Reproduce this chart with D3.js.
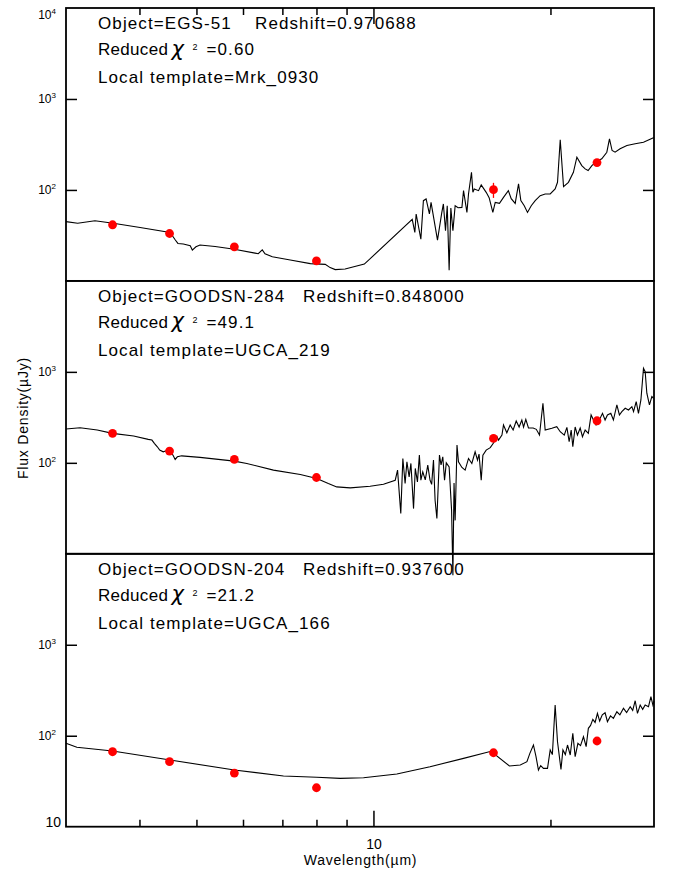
<!DOCTYPE html>
<html>
<head>
<meta charset="utf-8">
<script src="https://cdn.jsdelivr.net/npm/d3@7"></script>
<style>
  body { margin: 0; background: #fff; }
  text { font-family: "Liberation Sans", Arial, sans-serif; fill: #000; }
</style>
</head>
<body>
<div id="sed"></div>
<script>

// ---- data ----
var objectNames = ["EGS-51", "GOODSN-284", "GOODSN-204"];
var redshifts   = ["0.970688", "0.848000", "0.937600"];
var chiSquared  = ["0.60", "49.1", "21.2"];
var templates   = ["Mrk_0930", "UGCA_219", "UGCA_166"];

// observed bands (micron): IRAC 3.6/4.5/5.8/8.0, IRS 16, MIPS 24
var bandWave = [3.6, 4.5, 5.8, 8.0, 16, 24];
var obsFlux1 = [41.4, 33.2, 23.7, 16.6, 100.7, 200];
var obsFlux2 = [211, 134.6, 109, 69, 185.7, 290];
var obsFlux3 = [66.7, 51.8, 38.9, 26.8, 65, 87.5];
var obsErr1  = [0, 0, 0, 0, 19, 0];
var obsErr2  = [0, 0, 0, 0, 0, 0];
var obsErr3  = [0, 0, 0, 0, 0, 0];

// redshifted local templates (micron, microJy)
var tplWave1 = [3.00, 3.14, 3.36, 3.61, 4.01, 4.51, 4.60, 4.65, 4.75, 4.88, 4.92, 4.99, 5.07, 5.38, 5.80, 6.29, 6.37, 6.47, 6.54, 6.73,
  7.22, 7.81, 8.28, 8.44, 8.61, 8.95, 9.65, 11.64, 11.76, 11.82, 12.04, 12.16, 12.29, 12.45, 12.53, 12.85, 13.07, 13.15, 13.26, 13.35,
  13.45, 13.54, 13.65, 13.77, 13.93, 14.14, 14.23, 14.42, 14.51, 14.68, 14.76, 14.84, 15.09, 15.25, 15.55, 15.73, 15.96, 16.11, 16.38, 16.64,
  16.96, 17.15, 17.42, 17.65, 17.81, 18.05, 18.28, 18.55, 18.84, 19.21, 19.59, 19.98, 20.37, 20.56, 20.78, 21.05, 21.46, 21.88, 22.18, 22.61,
  22.91, 23.18, 23.52, 23.98, 24.45, 24.94, 25.20, 25.46, 25.76, 26.27, 26.98, 27.87, 28.79, 30.00];
var tplFlux1 = [44.8, 43.0, 45.9, 43.0, 38.7, 34.1, 28.3, 25.8, 25.4, 24.3, 21.8, 23.7, 24.8, 23.9, 22.3, 20.2, 19.9, 21.9, 19.9, 18.4,
  17.0, 15.5, 15.2, 14.0, 13.3, 13.5, 15.3, 47.4, 34.1, 54.4, 28.8, 76.2, 79.6, 54.4, 73.0, 28.1, 56.6, 70.1, 35.6, 67.1,
  13.1, 63.3, 35.6, 67.1, 63.8, 64.3, 98.2, 56.6, 90.3, 156.3, 94.1, 102.6, 98.2, 113.5, 94.1, 82.2, 56.6, 73.0, 71.1, 82.9,
  98.2, 80.2, 71.1, 116.5, 76.2, 67.1, 56.6, 67.1, 76.2, 86.5, 90.3, 90.3, 102.6, 121.3, 355.9, 108.7, 121.3, 156.3, 228.8, 185.3,
  170.4, 163.2, 185.3, 205.1, 219.7, 259.8, 365, 271.3, 259.8, 283.1, 307.8, 321.5, 334.8, 377.3];

var tplWave2 = [3.00, 3.17, 3.39, 3.60, 3.91, 4.14, 4.20, 4.24, 4.29, 4.33, 4.39, 4.44, 4.51, 4.56, 4.60, 4.64, 4.72, 5.07, 5.80, 6.09,
  6.76, 7.51, 8.01, 8.38, 8.66, 9.13, 9.87, 10.40, 10.89, 10.99, 11.13, 11.22, 11.32, 11.40, 11.50, 11.58, 11.70, 11.78, 11.88, 11.97,
  12.04, 12.13, 12.25, 12.37, 12.48, 12.56, 12.65, 12.73, 12.82, 12.95, 13.03, 13.12, 13.21, 13.30, 13.45, 13.58, 13.65, 13.71, 13.77, 13.87,
  13.95, 14.14, 14.32, 14.51, 14.70, 14.89, 15.03, 15.12, 15.25, 15.35, 15.55, 15.80, 16.00, 16.22, 16.32, 16.54, 16.64, 16.86, 17.08, 17.28,
  17.49, 17.69, 17.88, 18.00, 18.16, 18.35, 18.69, 18.92, 19.16, 19.42, 19.59, 20.11, 20.50, 20.78, 21.11, 21.33, 21.52, 21.69, 21.83, 22.03,
  22.23, 22.47, 22.67, 22.91, 23.20, 23.45, 23.67, 23.91, 24.14, 24.52, 24.77, 25.00, 25.33, 25.59, 25.94, 26.20, 26.45, 26.80, 27.15, 27.51,
  27.69, 27.98, 28.23, 28.50, 28.79, 28.98, 29.17, 29.47, 29.75, 29.94];
var tplFlux2 = [235.3, 243.2, 229.4, 211.0, 197.0, 181.1, 178.0, 163.7, 150.1, 138.0, 132.2, 135.6, 132.2, 121.6, 109.0, 116.5, 119.4, 114.7, 104.4, 98.5,
  83.1, 74.5, 67.3, 59.3, 54.4, 53.0, 55.3, 58.2, 64.4, 83.1, 27.7, 111.8, 59.3, 102.6, 70, 98.5, 31.4, 86.8, 61.7, 121.6,
  64.4, 79.6, 65, 94.3, 64.4, 58, 107.1, 38.8, 24.4, 121.6, 95, 116.5, 64.4, 100, 90.3, 30, 5.8, 60, 23.3, 156.7,
  102.6, 89.0, 83.1, 111.8, 98.5, 132.2, 107.1, 125, 64.4, 121.6, 138.0, 147, 165, 193.5, 178, 202, 260.4, 214.2, 260.4, 229.4,
  288.3, 247.6, 295.7, 247.6, 300.9, 241.3, 241.3, 233.5, 202, 451.8, 229.4, 239.5, 249.5, 219.7, 202, 245.7, 170.4, 229.4, 150.1, 247.6,
  202, 241.3, 193.5, 229.4, 211, 335.7, 295.7, 260.4, 283.2, 350.5, 295.7, 335.7, 350.5, 295.7, 432.7, 335.7, 365, 397.9, 381, 414.4,
  365, 470.6, 350.5, 491.3, 1098, 1008, 582.3, 432.7, 534.2, 512.9];

var tplWave3 = [3.00, 3.13, 3.60, 4.51, 5.80, 7.03, 8.01, 8.78, 9.62, 10.96, 12.48, 14.23, 15.85, 17.03, 17.77, 18.24, 18.45, 18.71, 18.90, 19.08,
  19.25, 19.46, 19.77, 19.98, 20.15, 20.37, 20.56, 20.84, 21.00, 21.20, 21.38, 21.61, 21.83, 22.03, 22.27, 22.50, 22.76, 23.00, 23.20, 23.40,
  23.61, 23.82, 24.04, 24.25, 24.50, 24.77, 25.00, 25.30, 25.59, 25.94, 26.25, 26.62, 26.95, 27.33, 27.60, 27.87, 28.12, 28.42, 28.70, 28.98,
  29.36, 29.64, 29.87, 30.00];
var tplFlux3 = [82.5, 74.6, 67.9, 54.1, 42.0, 36.1, 34.9, 34.0, 34.5, 37.9, 45.6, 56.4, 67.5, 46.5, 47.6, 51.8, 64, 79.1, 59, 42.0,
  47, 43.8, 43.8, 69.7, 62, 217.5, 85.9, 42.7, 69.7, 62, 79.1, 61.4, 106.3, 58.8, 82.5, 78, 97.5, 75.7, 120.6, 130,
  151.4, 140, 176.3, 145, 170, 178.9, 142.5, 165, 155.3, 183.5, 170, 200.0, 180, 208.3, 190, 242.5, 176.3, 217.5, 195, 217.5,
  208.3, 268.3, 217.5, 240];

// y tick labels shown per panel
var yLabels1 = [1e4, 1e3, 1e2];
var yLabels2 = [1e3, 1e2];
var yLabels3 = [1e3, 1e2, 10];

var xMinor = [4, 5, 6, 7, 8, 9, 20];
var xMajor = [10];

// ---- layout ----
var W = 673, H = 878;
var left = 66, plotW = 588, top0 = 8, panelH = 272.9;
var redshiftX = [255, 303, 303];

var panels = [
  {tw: tplWave1, tf: tplFlux1, of: obsFlux1, oe: obsErr1, lab: yLabels1},
  {tw: tplWave2, tf: tplFlux2, of: obsFlux2, oe: obsErr2, lab: yLabels2},
  {tw: tplWave3, tf: tplFlux3, of: obsFlux3, oe: obsErr3, lab: yLabels3}
];

var svg = d3.select("#sed").append("svg")
    .attr("width", W)
    .attr("height", H);

var x = d3.scaleLog().domain([3, 30]).range([left, left + plotW]);

panels.forEach(function(p, i) {
  var pTop = top0 + i * panelH;
  var y = d3.scaleLog().domain([10, 1e4]).range([pTop + panelH, pTop]);
  var g = svg.append("g");

  // frame
  g.append("rect")
    .attr("x", left).attr("y", pTop)
    .attr("width", plotW).attr("height", panelH)
    .attr("fill", "none").attr("stroke", "#000").attr("stroke-width", 1.8);

  // y ticks, inward on both sides
  g.append("g")
    .attr("transform", "translate(" + left + ",0)")
    .call(d3.axisLeft(y).tickValues([100, 1000]).tickSize(-11).tickSizeOuter(0).tickFormat(""));
  g.append("g")
    .attr("transform", "translate(" + (left + plotW) + ",0)")
    .call(d3.axisRight(y).tickValues([100, 1000]).tickSize(-11).tickSizeOuter(0).tickFormat(""));

  // y tick labels (10 with exponent)
  p.lab.forEach(function(v) {
    var cy = Math.min(Math.max(y(v), pTop + 6.5), pTop + panelH - 4.5);
    var e = Math.round(Math.log10(v));
    if (e === 1) {
      g.append("text")
        .attr("x", 61).attr("y", cy + 5)
        .attr("text-anchor", "end")
        .style("font-size", "14px")
        .text("10");
    } else {
      var t = g.append("text")
        .attr("x", 56).attr("y", cy + 4.5)
        .attr("text-anchor", "end")
        .style("font-size", "12px");
      t.append("tspan").text("10");
      t.append("tspan").attr("dy", -5).style("font-size", "8px").text(e);
    }
  });

  // template spectrum
  var line = d3.line()
    .x(function(d) { return x(d[0]); })
    .y(function(d) { return y(d[1]); });
  g.append("path")
    .datum(d3.zip(p.tw, p.tf))
    .attr("d", line)
    .attr("fill", "none")
    .attr("stroke", "#000")
    .attr("stroke-width", 1.1);

  // photometry
  var obs = d3.zip(bandWave, p.of, p.oe);
  g.selectAll(".err")
    .data(obs.filter(function(d) { return d[2] > 0; }))
    .enter().append("line")
      .attr("x1", function(d) { return x(d[0]); })
      .attr("x2", function(d) { return x(d[0]); })
      .attr("y1", function(d) { return y(d[1] - d[2]); })
      .attr("y2", function(d) { return y(d[1] + d[2]); })
      .attr("stroke", "#ff0000").attr("stroke-width", 1.3);
  g.selectAll(".pt")
    .data(obs)
    .enter().append("circle")
      .attr("cx", function(d) { return x(d[0]); })
      .attr("cy", function(d) { return y(d[1]); })
      .attr("r", 4.4)
      .attr("fill", "#ff0000");

  // annotation text
  var fs = "17px", ls = "1.1px";
  g.append("text").attr("x", 98).attr("y", pTop + 20.8)
    .style("font-size", fs).style("letter-spacing", ls)
    .text("Object=" + objectNames[i]);
  g.append("text").attr("x", redshiftX[i]).attr("y", pTop + 20.8)
    .style("font-size", fs).style("letter-spacing", ls)
    .text("Redshift=" + redshifts[i]);
  g.append("text").attr("x", 98).attr("y", pTop + 47.3)
    .style("font-size", fs).style("letter-spacing", "0.3px")
    .text("Reduced");
  g.append("text").attr("x", 171.5).attr("y", pTop + 47.5)
    .style("font-size", "21px")
    .style("font-family", "'DejaVu Sans', sans-serif")
    .style("font-style", "italic")
    .text("\u03c7");
  g.append("text").attr("x", 192.5).attr("y", pTop + 42.3)
    .style("font-size", "9px")
    .text("2");
  g.append("text").attr("x", 206.5).attr("y", pTop + 47.3)
    .style("font-size", fs).style("letter-spacing", ls)
    .text("=" + chiSquared[i]);
  g.append("text").attr("x", 98).attr("y", pTop + 74.8)
    .style("font-size", fs).style("letter-spacing", ls)
    .text("Local template=" + templates[i]);
});

// x ticks: top of first panel, bottom of last panel
var yTop = top0, yBot = top0 + 3 * panelH;
svg.append("g").attr("transform", "translate(0," + yTop + ")")
  .call(d3.axisTop(x).tickValues(xMinor).tickSize(-7).tickSizeOuter(0).tickFormat(""));
svg.append("g").attr("transform", "translate(0," + yTop + ")")
  .call(d3.axisTop(x).tickValues(xMajor).tickSize(-16).tickSizeOuter(0).tickFormat(""));
svg.append("g").attr("transform", "translate(0," + yBot + ")")
  .call(d3.axisBottom(x).tickValues(xMinor).tickSize(-7).tickSizeOuter(0).tickFormat(""));
svg.append("g").attr("class", "xmaj").attr("transform", "translate(0," + yBot + ")")
  .call(d3.axisBottom(x).tickValues(xMajor).tickSize(-16).tickSizeOuter(0).tickPadding(12)
    .tickFormat(d3.format("d")));

svg.selectAll(".domain").remove();
svg.selectAll(".tick line").attr("stroke", "#000").attr("stroke-width", 1.5);
svg.selectAll(".xmaj text")
  .attr("fill", "#000")
  .style("font-size", "14px")
  .style("font-family", "'Liberation Sans', Arial, sans-serif");

// axis titles
svg.append("text")
  .attr("x", 360.5).attr("y", 865)
  .attr("text-anchor", "middle")
  .style("font-size", "14px").style("letter-spacing", "0.8px")
  .text("Wavelength(\u00b5m)");

svg.append("text")
  .attr("transform", "translate(27.5,418) rotate(-90)")
  .attr("text-anchor", "middle")
  .style("font-size", "14px").style("letter-spacing", "0.8px")
  .text("Flux Density(\u00b5Jy)");

</script>
</body>
</html>
